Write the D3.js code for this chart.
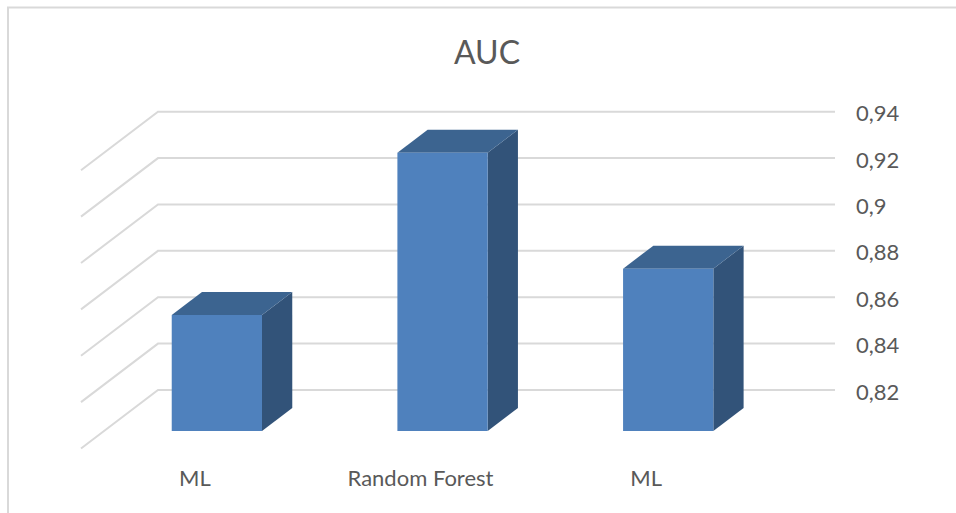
<!DOCTYPE html>
<html>
<head>
<meta charset="utf-8">
<script src="https://cdn.jsdelivr.net/npm/d3@7/dist/d3.min.js"></script>
<style>
  html, body { margin: 0; padding: 0; background: #fff; }
  svg { display: block; }
  text { font-family: Lato, "Open Sans", sans-serif; fill: #595959; }
</style>
</head>
<body>
<svg id="chart" width="956" height="513"></svg>
<script>
// AUC by model, 3D column chart
const chartTitle = "AUC";
const categories = ["ML", "Random Forest", "ML"];
const slotIds = ["a", "b", "c"];
const aucValues = [0.87, 0.94, 0.89];
const yTicks = [0.82, 0.84, 0.86, 0.88, 0.9, 0.92, 0.94];

const colors = { front: "#4f81bd", top: "#3c6490", side: "#325379", grid: "#d9d9d9", frame: "#d9d9d9" };

const svg = d3.select("#chart");

// Back wall of the plot; depth moves a point towards the viewer along the floor diagonal.
const wall = { left: 158, right: 835, top: 111.7, bottom: 390 };
const floorDepth = { dx: -77, dy: 58.5 };
const barFront = 41 / 58.5;
const barBack = 18 / 58.5;

const y = d3.scaleLinear().domain([0.82, 0.94]).range([wall.bottom, wall.top]);
const x = d3.scaleBand().domain(slotIds).range([wall.left, wall.right]).paddingInner(0.6).paddingOuter(0.3);

const project = (px, value, depth) => [px + floorDepth.dx * depth, y(value) + floorDepth.dy * depth];
const poly = pts => pts.map(p => p.join(",")).join(" ");

// Chart frame, visible along the top and left edges
svg.append("path")
  .attr("d", "M8,513V7.5H956")
  .attr("fill", "none").attr("stroke", colors.frame).attr("stroke-width", 2);

// Gridlines: the diagonal on the side wall, then the run across the back wall
svg.append("g").selectAll("polyline").data(yTicks).join("polyline")
  .attr("points", d => poly([project(wall.left, d, 1), project(wall.left, d, 0), project(wall.right, d, 0)]))
  .attr("fill", "none").attr("stroke", colors.grid).attr("stroke-width", 2);

// Columns
const base = y.domain()[0];
const bars = svg.append("g").selectAll("g").data(aucValues).join("g");
bars.each(function (d, i) {
  const g = d3.select(this);
  const x0 = x(slotIds[i]);
  const x1 = x0 + x.bandwidth();
  g.append("polygon").attr("fill", colors.side).attr("points", poly([
    project(x1, d, barFront), project(x1, d, barBack), project(x1, base, barBack), project(x1, base, barFront)
  ]));
  g.append("polygon").attr("fill", colors.top).attr("points", poly([
    project(x0, d, barFront), project(x0, d, barBack), project(x1, d, barBack), project(x1, d, barFront)
  ]));
  g.append("polygon").attr("fill", colors.front).attr("points", poly([
    project(x0, d, barFront), project(x1, d, barFront), project(x1, base, barFront), project(x0, base, barFront)
  ]));
});

// Value axis, right of the back wall
const fmt = d3.format(".2~f");
const yAxis = d3.axisRight(y).tickValues(yTicks).tickSize(0).tickPadding(0)
  .tickFormat(d => fmt(d).replace(".", ","));
const axisG = svg.append("g").attr("transform", `translate(856,2)`).call(yAxis);
axisG.select(".domain").remove();
axisG.selectAll("text").style("font-family", "Lato, 'Open Sans', sans-serif").style("font-size", "22px").attr("fill", "#595959");

// Category labels on the front of the floor
svg.append("g").selectAll("text").data(categories).join("text")
  .attr("x", (d, i) => x(slotIds[i]) + x.bandwidth() / 2 + floorDepth.dx + 1)
  .attr("y", 486)
  .attr("text-anchor", "middle")
  .style("font-size", "22px")
  .text(d => d);

// Title
svg.append("text")
  .attr("x", 487).attr("y", 64)
  .attr("text-anchor", "middle")
  .style("font-size", "32px")
  .text(chartTitle);
</script>
</body>
</html>
